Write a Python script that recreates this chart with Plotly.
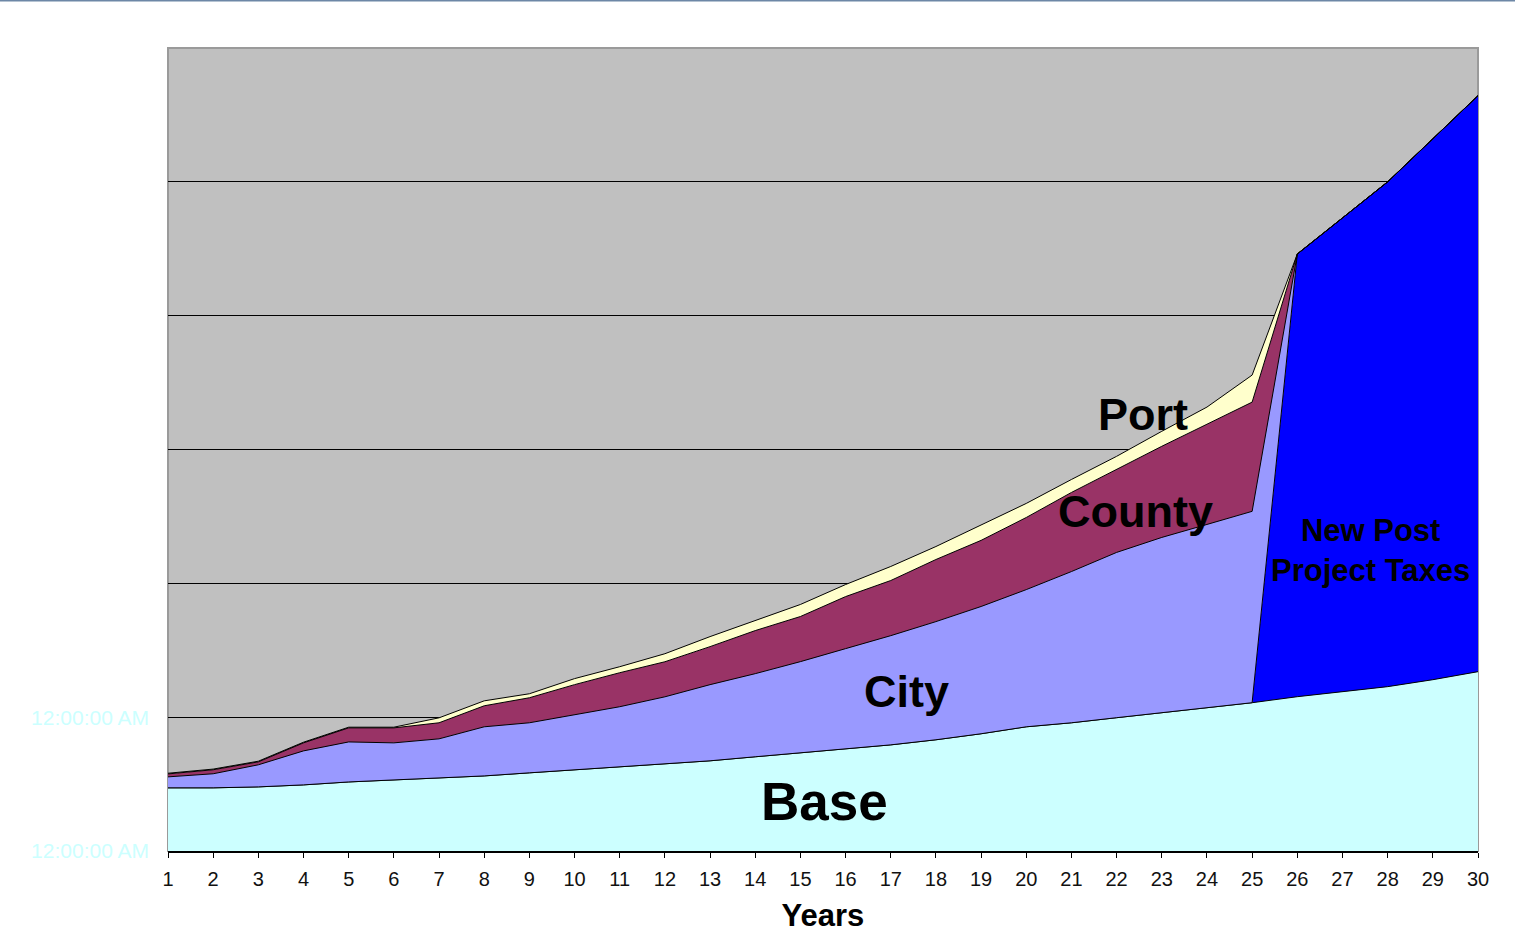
import plotly.graph_objects as go

years = list(range(1, 31))

base = [0.472, 0.472, 0.479, 0.494, 0.516, 0.531, 0.546, 0.561, 0.584, 0.606,
        0.629, 0.651, 0.674, 0.704, 0.734, 0.763, 0.793, 0.831, 0.876, 0.928,
        0.958, 0.996, 1.033, 1.070, 1.108, 1.153, 1.190, 1.228, 1.280, 1.340]

new_post = [0]*25 + [3.308, 3.540, 3.772, 4.042, 4.304]

city = [0.082, 0.105, 0.165, 0.254, 0.299, 0.277, 0.292, 0.367, 0.374, 0.412,
        0.449, 0.501, 0.569, 0.621, 0.681, 0.749, 0.816, 0.883, 0.951, 1.025,
        1.130, 1.235, 1.310, 1.370, 1.430, 0, 0, 0, 0, 0]

county = [0.022, 0.030, 0.022, 0.060, 0.105, 0.112, 0.120, 0.157, 0.187, 0.225,
          0.254, 0.262, 0.284, 0.322, 0.337, 0.389, 0.412, 0.464, 0.494, 0.539,
          0.591, 0.621, 0.681, 0.749, 0.816, 0, 0, 0, 0, 0]

port = [0.005, 0.005, 0.005, 0.005, 0.005, 0.005, 0.037, 0.037, 0.030, 0.045,
        0.045, 0.060, 0.075, 0.075, 0.090, 0.090, 0.105, 0.097, 0.112, 0.105,
        0.097, 0.097, 0.112, 0.128, 0.202, 0, 0, 0, 0, 0]

y_tickvals = [0, 1, 2, 3, 4, 5]
y_ticktext = ["12:00:00 AM", "12:00:00 AM", "", "", "", ""]

series = [
    ("Base", base, "#ccffff"),
    ("New Post Project Taxes", new_post, "#0000ff"),
    ("City", city, "#9999ff"),
    ("County", county, "#993366"),
    ("Port", port, "#ffffcc"),
]

FONT = "Arial, Liberation Sans, sans-serif"

fig = go.Figure()
for name, vals, col in series:
    fig.add_trace(go.Scatter(
        x=years, y=vals, name=name, mode="lines", stackgroup="one",
        line=dict(color="black", width=1), fillcolor=col, hoverinfo="skip",
    ))

W, H = 1515, 952
L, R, T, B = 168, 37, 48, 101
pw, ph = W - L - R, H - T - B

def px(xp):
    return (xp - L) / pw

def py(yp):
    return (H - B - yp) / ph

labels = [
    ("Port", 1143, 414, 45),
    ("County", 1135, 511, 45),
    ("City", 906, 691, 45),
    ("Base", 824, 801, 53),
]
anns = []
for txt, xx, yy, sz in labels:
    anns.append(dict(text="<b>%s</b>" % txt, x=px(xx), y=py(yy), xref="paper", yref="paper",
                     showarrow=False, xanchor="center", yanchor="middle",
                     font=dict(family=FONT, size=sz, color="black")))
anns.append(dict(text="<b>New Post<br>Project Taxes</b>", x=px(1370), y=py(550),
                 xref="paper", yref="paper", showarrow=False, xanchor="center", yanchor="middle",
                 font=dict(family=FONT, size=31, color="black")))

fig.update_layout(
    width=W, height=H,
    margin=dict(l=L, r=R, t=T, b=B),
    paper_bgcolor="white", plot_bgcolor="#c0c0c0",
    showlegend=False,
    font=dict(family=FONT, color="black"),
    annotations=anns,
    shapes=[
        dict(type="rect", xref="paper", yref="paper", x0=0, x1=1, y0=0, y1=1,
             line=dict(color="#9a9a9a", width=2), layer="below"),
        dict(type="line", xref="paper", yref="paper", x0=px(0), x1=px(W), y0=py(0.5), y1=py(0.5),
             line=dict(color="#6d87a6", width=2)),
    ],
    xaxis=dict(
        range=[1, 30], tickmode="array", tickvals=years, ticktext=[str(v) for v in years],
        showgrid=False, zeroline=False, showline=True, linecolor="black", linewidth=1.5,
        ticks="outside", ticklen=5, tickcolor="black", tickwidth=1, ticklabelstandoff=4,
        tickfont=dict(family=FONT, size=20, color="#111111"),
        title=dict(text="<b>Years</b>", font=dict(family=FONT, size=31, color="black"), standoff=16),
        fixedrange=True,
    ),
    yaxis=dict(
        range=[0, 6], tickmode="array", tickvals=y_tickvals, ticktext=y_ticktext,
        showgrid=True, gridcolor="black", gridwidth=1, zeroline=False, showline=False,
        ticks="", ticklabelstandoff=18,
        tickfont=dict(family=FONT, size=21, color="#ccffff"),
        fixedrange=True,
    ),
)

fig.write_html("out.html")
